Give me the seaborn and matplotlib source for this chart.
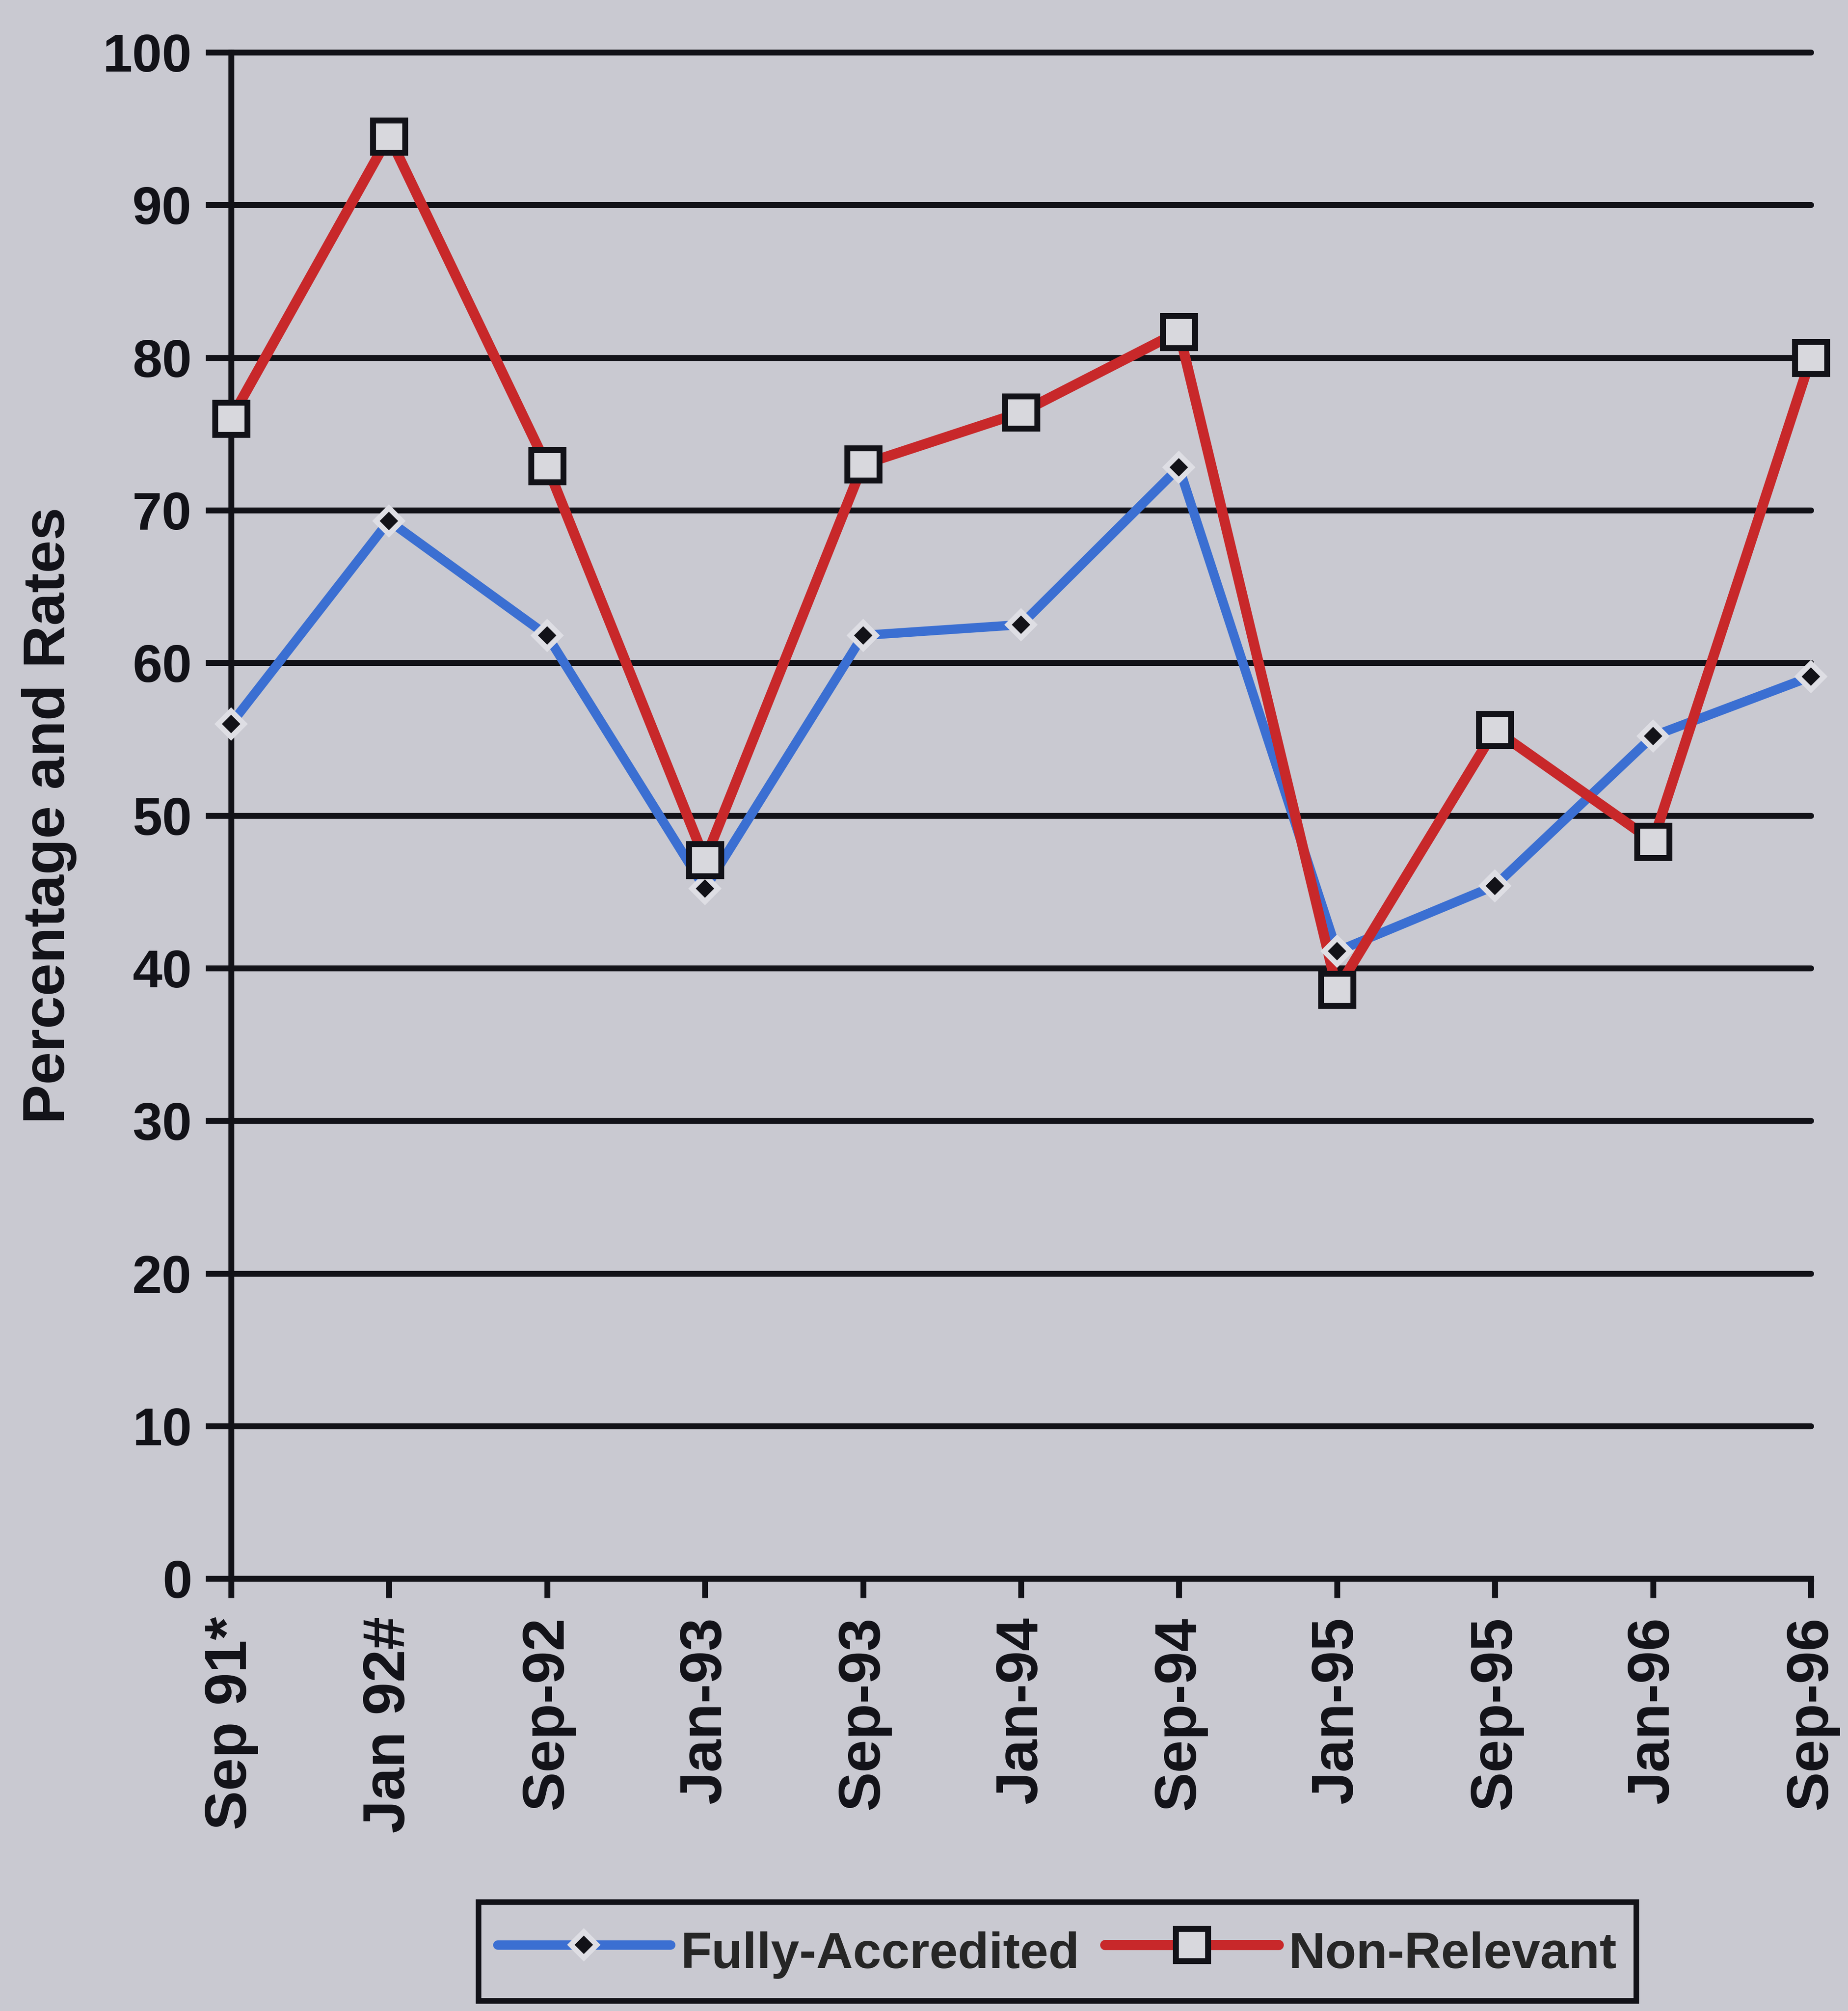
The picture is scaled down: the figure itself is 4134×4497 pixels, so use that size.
import numpy as np
import pandas as pd
import matplotlib
matplotlib.use("Agg")
import matplotlib.pyplot as plt
from matplotlib.lines import Line2D
import seaborn as sns

# Survey periods and the two rate series (percent)
periods = ["Sep 91*", "Jan 92#", "Sep-92", "Jan-93", "Sep-93", "Jan-94",
           "Sep-94", "Jan-95", "Sep-95", "Jan-96", "Sep-96"]
fully_accredited = [56.0, 69.3, 61.8, 45.2, 61.8, 62.5, 72.8, 41.1, 45.4, 55.2, 59.1]
non_relevant = [76.0, 94.5, 72.9, 47.1, 73.0, 76.4, 81.7, 38.6, 55.6, 48.3, 80.0]
y_ticks = [0, 10, 20, 30, 40, 50, 60, 70, 80, 90, 100]

df = pd.DataFrame({
    "pos": np.arange(len(periods)),
    "Fully-Accredited": fully_accredited,
    "Non-Relevant": non_relevant,
})

BG = "#c9c9d1"
BLUE = "#3b6fd2"
RED = "#c8282a"
INK = "#121218"
HALO = "#dedee4"
BOX_FILL = "#d8d8dd"

sns.set_style("ticks")
plt.rcParams["font.family"] = ["Liberation Sans", "DejaVu Sans"]

fig = plt.figure(figsize=(41.34, 44.97), dpi=100, facecolor=BG)
ax = fig.add_axes([0.125, 0.215, 0.855, 0.759])
ax.set_facecolor(BG)

diamond_style = dict(marker="D", markersize=30, markerfacecolor=INK,
                     markeredgecolor=HALO, markeredgewidth=8.5)
square_style = dict(marker="s", markersize=52, markerfacecolor=BOX_FILL,
                    markeredgecolor=INK, markeredgewidth=9.5)

# connecting lines (red above blue)
sns.lineplot(data=df, x="pos", y="Fully-Accredited", ax=ax, color=BLUE,
             lw=15, zorder=3, legend=False, solid_capstyle="butt")
sns.lineplot(data=df, x="pos", y="Non-Relevant", ax=ax, color=RED,
             lw=16.5, zorder=4, legend=False, solid_capstyle="butt")
# markers on top of both lines
sns.lineplot(data=df, x="pos", y="Fully-Accredited", ax=ax, linestyle="",
             zorder=5, legend=False, clip_on=False, **diamond_style)
sns.lineplot(data=df, x="pos", y="Non-Relevant", ax=ax, linestyle="",
             zorder=6, legend=False, clip_on=False, **square_style)

ax.set_xlim(0, len(periods) - 1)
ax.set_ylim(0, 100)
ax.set_xticks(df["pos"])
ax.set_xticklabels(periods, rotation=90, fontsize=95, fontweight="bold",
                   color=INK)
ax.set_yticks(y_ticks)
ax.set_yticklabels([str(v) for v in y_ticks], fontsize=86,
                   fontweight="bold", color=INK)
ax.tick_params(axis="y", length=41, width=9.5, color=INK, pad=22)
ax.tick_params(axis="x", length=31, width=9.5, color=INK, pad=30)

ax.yaxis.grid(True, color=INK, lw=9.5)
for gl in ax.yaxis.get_gridlines():
    gl.set_clip_on(False)
ax.set_axisbelow(True)

for side in ("top", "right"):
    ax.spines[side].set_visible(False)
for side in ("left", "bottom"):
    ax.spines[side].set_linewidth(9.5)
    ax.spines[side].set_color(INK)

ax.set_xlabel("")
ax.set_ylabel("Percentage and Rates", fontsize=95, fontweight="bold",
              color=INK)
ax.yaxis.set_label_coords(-0.115, 0.5)
ax.yaxis.label.set_va("center")

handles = [
    Line2D([], [], color=BLUE, lw=15, **diamond_style),
    Line2D([], [], color=RED, lw=16.5, **square_style),
]
leg = fig.legend(handles, ["Fully-Accredited", "Non-Relevant"],
                 loc="upper center", bbox_to_anchor=(0.572, 0.067),
                 ncol=2, frameon=True, fancybox=False,
                 prop=dict(family=["Liberation Sans", "DejaVu Sans"],
                           weight="bold", size=82),
                 facecolor=BG, edgecolor=INK, framealpha=1,
                 handlelength=3.4, handleheight=1.45, handletextpad=0.2,
                 columnspacing=0.5, borderpad=0.38, numpoints=1)
leg.get_frame().set_linewidth(9)

fig.savefig("out.png", dpi=100, facecolor=BG)
